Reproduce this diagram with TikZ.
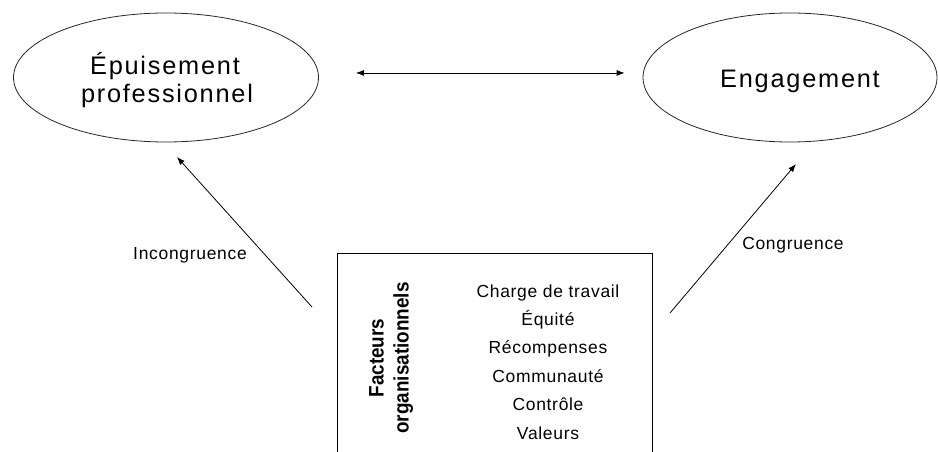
\documentclass[tikz,border=0pt]{standalone}
\usepackage{fontspec}
\setmainfont{Liberation Sans}
\usetikzlibrary{shapes.geometric,arrows.meta}
\begin{document}
\begin{tikzpicture}[x=0.75pt,y=-0.75pt,
  oval/.style={ellipse,draw=black!85,line width=0.6pt,inner sep=0pt},
  ovaltext/.style={anchor=base,inner sep=0pt,
    font=\fontsize{19}{22}\selectfont\addfontfeatures{LetterSpace=7}},
  arr/.style={line width=0.6pt,-{Latex[length=6pt,width=4.5pt]}},
  dblarr/.style={line width=0.6pt,{Latex[length=6pt,width=4.5pt]}-{Latex[length=6pt,width=4.5pt]}},
  factor/.style={anchor=base,inner sep=0pt,
    font=\fontsize{13.1}{16}\selectfont\addfontfeatures{LetterSpace=4}},
  lab/.style={factor},
  frame/.style={draw=black,line width=0.9pt,inner sep=0pt}]
\useasboundingbox (0,0) rectangle (938,452);
\clip (0,0) rectangle (938,452);

% the two outcome ellipses
\node[oval,minimum width=228.75pt,minimum height=96.75pt] (burnout) at (166,77.5) {};
\node[oval,minimum width=220.5pt,minimum height=96.75pt] (engage) at (790,77.5) {};
\node[ovaltext] (burnout1) at (165,75) {Épuisement};
\node[ovaltext] (burnout2) at (167,103) {professionnel};
\node[ovaltext] (engage1) at (800,88) {Engagement};

% two-way link between them
\draw[dblarr,shorten <=27.75pt,shorten >=13.5pt]
  ([yshift=3.4pt]burnout.east) -- ([yshift=3.4pt]engage.west);

% box of organisational factors (runs off the bottom edge)
\node[frame,anchor=north west,minimum width=236.25pt,minimum height=165pt] (box) at (337,253) {};

\node[inner sep=0pt,rotate=90,align=center,font=\fontsize{15.75}{18.75}\selectfont\bfseries]
  (title) at (391,358) {\scalebox{0.9}[1]{Facteurs}\\\scalebox{0.9}[1]{organisationnels}};

\node[factor] (f1) at (548,297) {Charge de travail};
\node[factor] (f2) at (548,325.4) {Équité};
\node[factor] (f3) at (548,353.8) {Récompenses};
\node[factor] (f4) at (548,382.2) {Communauté};
\node[factor] (f5) at (548,410.6) {Contrôle};
\node[factor] (f6) at (548,439) {Valeurs};

% links from the factors to each outcome
\coordinate (incS) at (312,307);
\coordinate (incE) at (177,157);
\coordinate (conS) at (670,313);
\coordinate (conE) at (796,164);
\draw[arr] (incS) -- (incE);
\draw[arr] (conS) -- (conE);

\node[lab] (inc) at (190,259) {Incongruence};
\node[lab] (con) at (793,250) {Congruence};
\end{tikzpicture}
\end{document}
